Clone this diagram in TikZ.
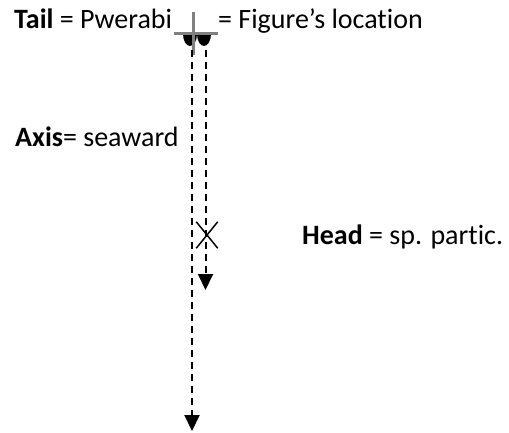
\documentclass[tikz,border=0pt]{standalone}
\usepackage{fontspec}
\setmainfont{Carlito}[Ligatures={TeX,NoCommon}]
\usetikzlibrary{positioning, arrows.meta, shapes.misc}
\definecolor{mGray}{HTML}{808080}

\begin{document}
\begin{tikzpicture}[x=1pt, y=-1pt,
  lbl/.style={anchor=base west, inner sep=0pt, font=\fontsize{28}{34}\selectfont},
  axisline/.style={line width=2pt, dash pattern=on 7pt off 5pt,
                   -{Triangle[width=15pt, length=16pt]}},
  bar/.style={draw=mGray, line width=3.5pt},
]
  \useasboundingbox (0,0) rectangle (509,432);
  \node[lbl] (tail) at (14,28) {\textbf{Tail} = Pwerabi};
  \node[lbl] (fig) at (218,28) {= Figure’s location};
  \node[lbl] (axis) at (15,146) {\textbf{Axis}= seaward};
  \node[lbl] (head) at (302,244) {\textbf{Head} = sp. partic.};

  \fill (183,34) arc[start angle=180, end angle=360, x radius=7pt, y radius=12pt] -- cycle;
  \fill (197,34) arc[start angle=180, end angle=360, x radius=7pt, y radius=12pt] -- cycle;
  \draw[bar] (174,33.5) -- (218,33.5);
  \draw[bar] (193.5,12) -- (193.5,55);

  \coordinate (topL) at (192,50);
  \coordinate (endL) at (192,431);
  \coordinate (topR) at (205.5,50);
  \coordinate (endR) at (205.5,290);
  \draw[axisline] (topL) -- (endL);
  \draw[axisline] (topR) -- (endR);

  \node[draw, cross out, line width=1.5pt, inner sep=0pt,
        minimum width=20pt, minimum height=25pt] (mark) at (207,235) {};
\end{tikzpicture}
\end{document}
